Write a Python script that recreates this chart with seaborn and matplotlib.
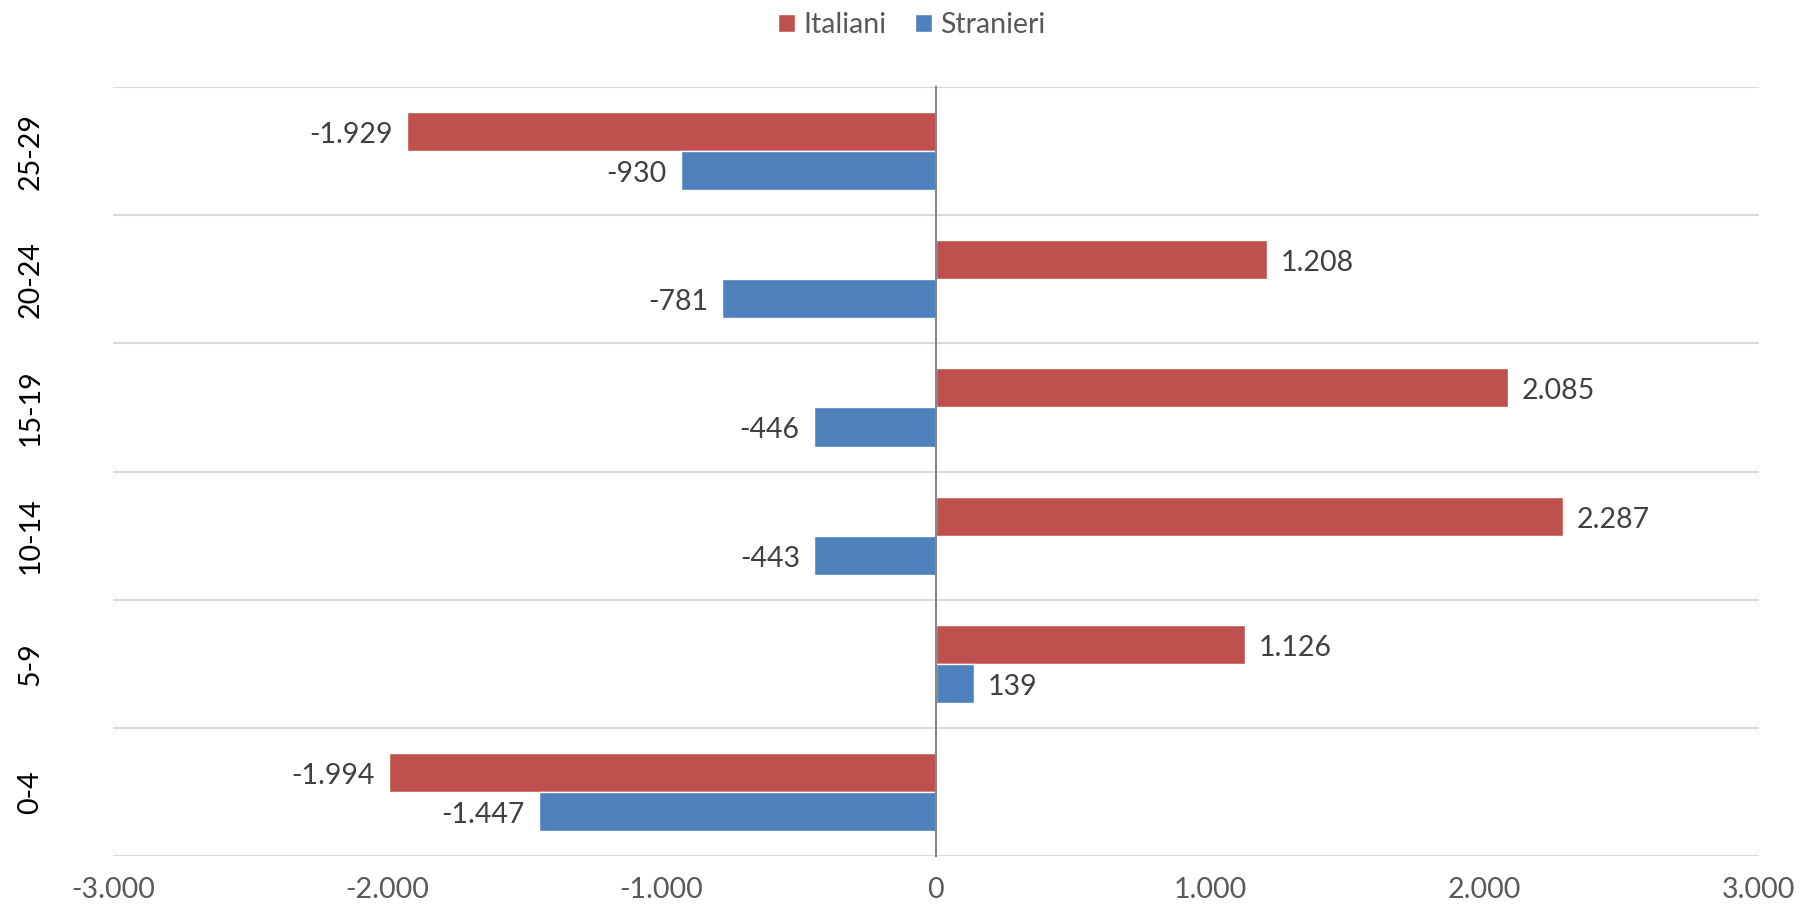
import numpy as np
import pandas as pd
import matplotlib
matplotlib.use("Agg")
import matplotlib.pyplot as plt
import seaborn as sns
from matplotlib.ticker import FixedLocator, FuncFormatter
from matplotlib.patches import Patch

# ── Data ──────────────────────────────────────────────────────────────────────
age_groups = ["25-29", "20-24", "15-19", "10-14", "5-9", "0-4"]
italiani   = [-1929, 1208, 2085, 2287, 1126, -1994]
stranieri  = [-930, -781, -446, -443, 139, -1447]
series     = ["Italiani", "Stranieri"]
colors     = ["#C0504D", "#4F81BD"]
x_ticks    = [-3000, -2000, -1000, 0, 1000, 2000, 3000]

df = pd.DataFrame({
    "eta": age_groups * 2,
    "valore": italiani + stranieri,
    "gruppo": ["Italiani"] * len(age_groups) + ["Stranieri"] * len(age_groups),
})


def it_num(v, pos=None):
    # Italian thousands separator
    return f"{v:,.0f}".replace(",", ".")


sns.set_style("white")
plt.rcParams["font.family"] = ["Lato", "DejaVu Sans"]

fig = plt.figure(figsize=(18.02, 9.10), dpi=100)
ax = fig.add_axes([0.0627, 0.0593, 0.9133, 0.8451])

sns.barplot(data=df, y="eta", x="valore", hue="gruppo", order=age_groups,
            hue_order=series, palette=colors, orient="h", width=0.61,
            saturation=1, ax=ax, legend=False)

# ── Data labels ───────────────────────────────────────────────────────────────
for cont in ax.containers:
    texts = ax.bar_label(cont, labels=[it_num(b.get_width()) for b in cont],
                         padding=10, fontsize=20.5, color="#404040")
    for t in texts:
        t.xyann = (t.xyann[0], -2.5)  # nudge down to sit centred on the bar

# ── Axes ──────────────────────────────────────────────────────────────────────
n = len(age_groups)
ax.set_xlim(x_ticks[0], x_ticks[-1])
ax.set_ylim(n - 0.5, -0.5)
ax.xaxis.set_major_locator(FixedLocator(x_ticks))
ax.xaxis.set_major_formatter(FuncFormatter(it_num))
ax.tick_params(axis="x", length=0, labelsize=20.5, labelcolor="#595959", pad=15)
ax.set_xlabel("")
ax.set_ylabel("")

# category boundaries → gridlines + small ticks on the zero axis
bounds = np.arange(n + 1) - 0.5
ax.yaxis.set_minor_locator(FixedLocator(bounds))
ax.grid(which="minor", axis="y", color="#D9D9D9", lw=1.5)
ax.grid(which="major", visible=False)
ax.set_axisbelow(True)

for s in ["top", "right", "bottom"]:
    ax.spines[s].set_visible(False)
ax.spines["left"].set_position(("data", 0))
ax.spines["left"].set_color("#868686")
ax.spines["left"].set_linewidth(1.5)
ax.spines["left"].set_zorder(5)
ax.tick_params(axis="y", which="major", length=0, labelleft=False)
ax.tick_params(axis="y", which="minor", length=7, width=1.5, color="#868686",
               direction="out")

# category labels on the far left
sec = ax.secondary_yaxis("left")
sec.set_yticks(range(n))
sec.set_yticklabels(age_groups, rotation=90, va="center", fontsize=20.5,
                    color="#000000")
sec.tick_params(length=0, pad=50)
sec.spines["left"].set_visible(False)

# ── Legend ────────────────────────────────────────────────────────────────────
handles = [Patch(facecolor=c, label=s) for c, s in zip(colors, series)]
fig.legend(handles=handles, loc="center", bbox_to_anchor=(0.506, 0.972),
           ncol=2, frameon=False, fontsize=20.5, handlelength=0.6,
           handleheight=0.6, handletextpad=0.3, columnspacing=1.0,
           labelcolor="#595959")

fig.savefig("out.png", dpi=100)
